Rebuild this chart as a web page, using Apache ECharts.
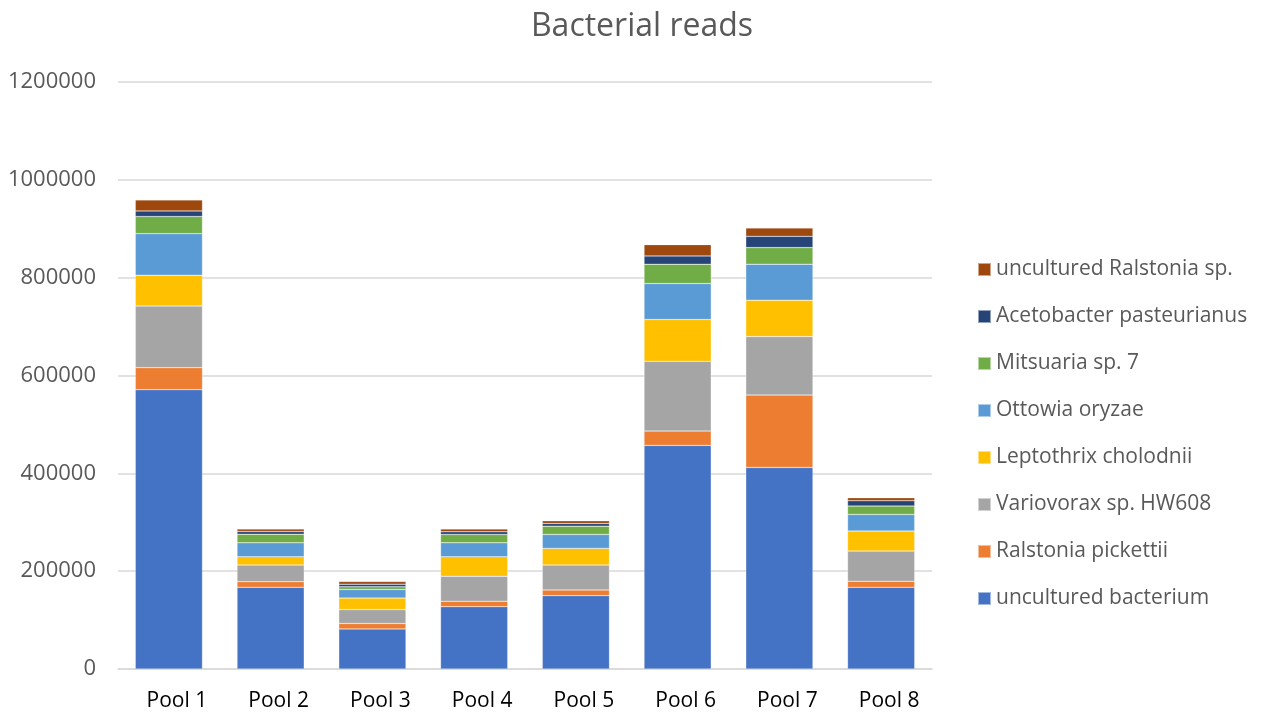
<!DOCTYPE html>
<html>
<head>
<meta charset="utf-8">
<script src="https://cdn.jsdelivr.net/npm/echarts@6/dist/echarts.min.js"></script>
<style>html,body{margin:0;padding:0;background:#fff;}#chart{width:1269px;height:715px;}</style>
</head>
<body>
<div id="chart"></div>
<script>
const categories = ['Pool 1','Pool 2','Pool 3','Pool 4','Pool 5','Pool 6','Pool 7','Pool 8'];
const seriesNames = ['uncultured bacterium','Ralstonia pickettii','Variovorax sp. HW608','Leptothrix cholodnii','Ottowia oryzae','Mitsuaria sp. 7','Acetobacter pasteurianus','uncultured Ralstonia sp.'];
const colors = ['#4472C4','#ED7D31','#A5A5A5','#FFC000','#5B9BD5','#70AD47','#264478','#9E480E'];
const unculturedBacterium = [571000,167000,82000,127500,150000,457000,412000,167000];
const ralstoniaPickettii = [45000,11500,11000,11000,11500,29500,148000,12500];
const variovorax = [126000,34000,28500,51000,51000,142500,119500,61500];
const leptothrix = [63000,17000,23500,40000,34000,85500,74500,41000];
const ottowia = [85000,28500,17500,28500,28500,73500,73500,34000];
const mitsuaria = [35000,17500,5500,17000,17000,39500,34000,17000];
const acetobacter = [11500,5500,5500,5500,5500,17000,23000,11000];
const unculturedRalstonia = [22500,5000,5500,5500,5500,23000,17000,6000];
const yTicks = [0,200000,400000,600000,800000,1000000,1200000];

const values = [unculturedBacterium,ralstoniaPickettii,variovorax,leptothrix,ottowia,mitsuaria,acetobacter,unculturedRalstonia];
const FONT = '"Open Sans", Lato, sans-serif';
const chart = echarts.init(document.getElementById('chart'));
chart.setOption({
  animation: false,
  color: colors,
  title: {
    text: 'Bacterial reads', left: 637, top: 6, textAlign: 'center',
    textStyle: {fontFamily: FONT, fontSize: 32, fontWeight: 'normal', color: '#595959'}
  },
  legend: {
    orient: 'vertical', left: 972, top: 254, itemGap: 26,
    itemWidth: 13, itemHeight: 13, icon: 'rect',
    data: seriesNames.slice().reverse(),
    textStyle: {fontFamily: FONT, fontSize: 21, color: '#595959', padding: [0,0,0,0]}
  },
  grid: {left: 118, right: 337, top: 82, bottom: 46, containLabel: false},
  xAxis: {
    type: 'category', data: categories,
    axisLine: {lineStyle: {color: '#d9d9d9', width: 1.5}},
    axisTick: {show: false},
    axisLabel: {fontFamily: FONT, fontSize: 21, color: '#000', margin: 22, padding: [0,0,0,16]}
  },
  yAxis: {
    type: 'value', min: yTicks[0], max: yTicks[yTicks.length-1], interval: 200000,
    axisLine: {show: false}, axisTick: {show: false},
    splitLine: {lineStyle: {color: '#d9d9d9', width: 1.5}},
    axisLabel: {fontFamily: FONT, fontSize: 22, color: '#595959', margin: 22, formatter: v => String(v)}
  },
  series: seriesNames.map((n, i) => ({
    name: n, type: 'bar', stack: 'total', data: values[i], barWidth: '66%',
    itemStyle: {borderColor: 'rgba(255,255,255,0.5)', borderWidth: 0.5}
  }))
});
</script>
</body>
</html>
